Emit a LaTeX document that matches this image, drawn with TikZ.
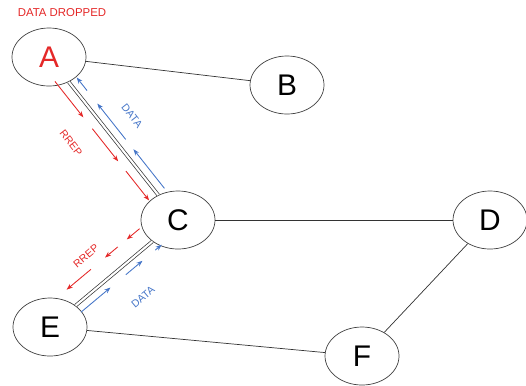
\documentclass[tikz,border=0pt]{standalone}
\usepackage{fontspec}
\setsansfont{Liberation Sans}
\usetikzlibrary{calc,arrows.meta,shapes.geometric}
\definecolor{rrepred}{RGB}{228,40,40}
\definecolor{datablue}{RGB}{70,118,200}
\tikzset{
  host/.style={draw=black!75,ellipse,minimum width=1.48cm,minimum height=1.16cm,inner sep=0pt,font=\fontsize{17}{19}\selectfont\sffamily},
  link/.style={draw=black!80,line width=0.4pt},
  dlink/.style={draw=black!80,double,double distance=1.2pt,line width=0.4pt},
  rrep/.style={rrepred,line width=0.5pt,-{Stealth[length=3.5pt,width=2.6pt]}},
  data/.style={datablue,line width=0.5pt,-{Stealth[length=3.5pt,width=2.6pt]}},
  tag/.style={font=\fontsize{6}{7}\selectfont\sffamily,inner sep=0pt}
}
\begin{document}
\begin{tikzpicture}
  \useasboundingbox (0,0) rectangle (10.52,-7.7);
  % hosts
  \node[host,text=rrepred] (A) at (0.98,-1.14) {A};
  \node[host] (B) at (5.74,-1.70) {B};
  \node[host] (C) at (3.56,-4.40) {C};
  \node[host] (D) at (9.80,-4.40) {D};
  \node[host] (E) at (1.00,-6.54) {E};
  \node[host] (F) at (7.24,-7.12) {F};
  \node[tag,text=rrepred,font=\fontsize{6.5}{8}\selectfont\sffamily] (drop) at (1.24,-0.26) {DATA DROPPED};
  % links
  \draw[link] (A) -- (B);
  \draw[dlink] (A) -- (C);
  \draw[link] (C) -- (D);
  \draw[dlink] (C) -- (E);
  \draw[link] (E) -- (F);
  \draw[link] (D) -- (F);
  % RREP A -> C and DATA C -> A
  \foreach \s/\e in {0.11/0.33,0.40/0.60,0.66/0.84}
    \draw[rrep] ($(A)!\s!(C)!0.21cm!-90:(C)$) -- ($(A)!\e!(C)!0.21cm!-90:(C)$);
  \foreach \s/\e in {0.16/0.40,0.46/0.68,0.76/0.84}
    \draw[data] ($(C)!\s!(A)!0.18cm!-90:(A)$) -- ($(C)!\e!(A)!0.18cm!-90:(A)$);
  \node[tag,text=rrepred,rotate=-51.6] (rrep1) at (1.42,-2.86) {RREP};
  \node[tag,text=datablue,rotate=-51.6] (data1) at (2.64,-2.32) {DATA};
  % RREP C -> E and DATA E -> C
  \foreach \s/\e in {0.21/0.31,0.38/0.48,0.59/0.78}
    \draw[rrep] ($(C)!\s!(E)!0.36cm!-90:(E)$) -- ($(C)!\e!(E)!0.36cm!-90:(E)$);
  \foreach \s/\e in {0.20/0.43,0.55/0.68,0.78/0.83}
    \draw[data] ($(E)!\s!(C)!0.17cm!-90:(C)$) -- ($(E)!\e!(C)!0.17cm!-90:(C)$);
  \node[tag,text=rrepred,rotate=40] (rrep2) at (1.72,-5.12) {RREP};
  \node[tag,text=datablue,rotate=40] (data2) at (2.86,-5.94) {DATA};
\end{tikzpicture}
\end{document}
